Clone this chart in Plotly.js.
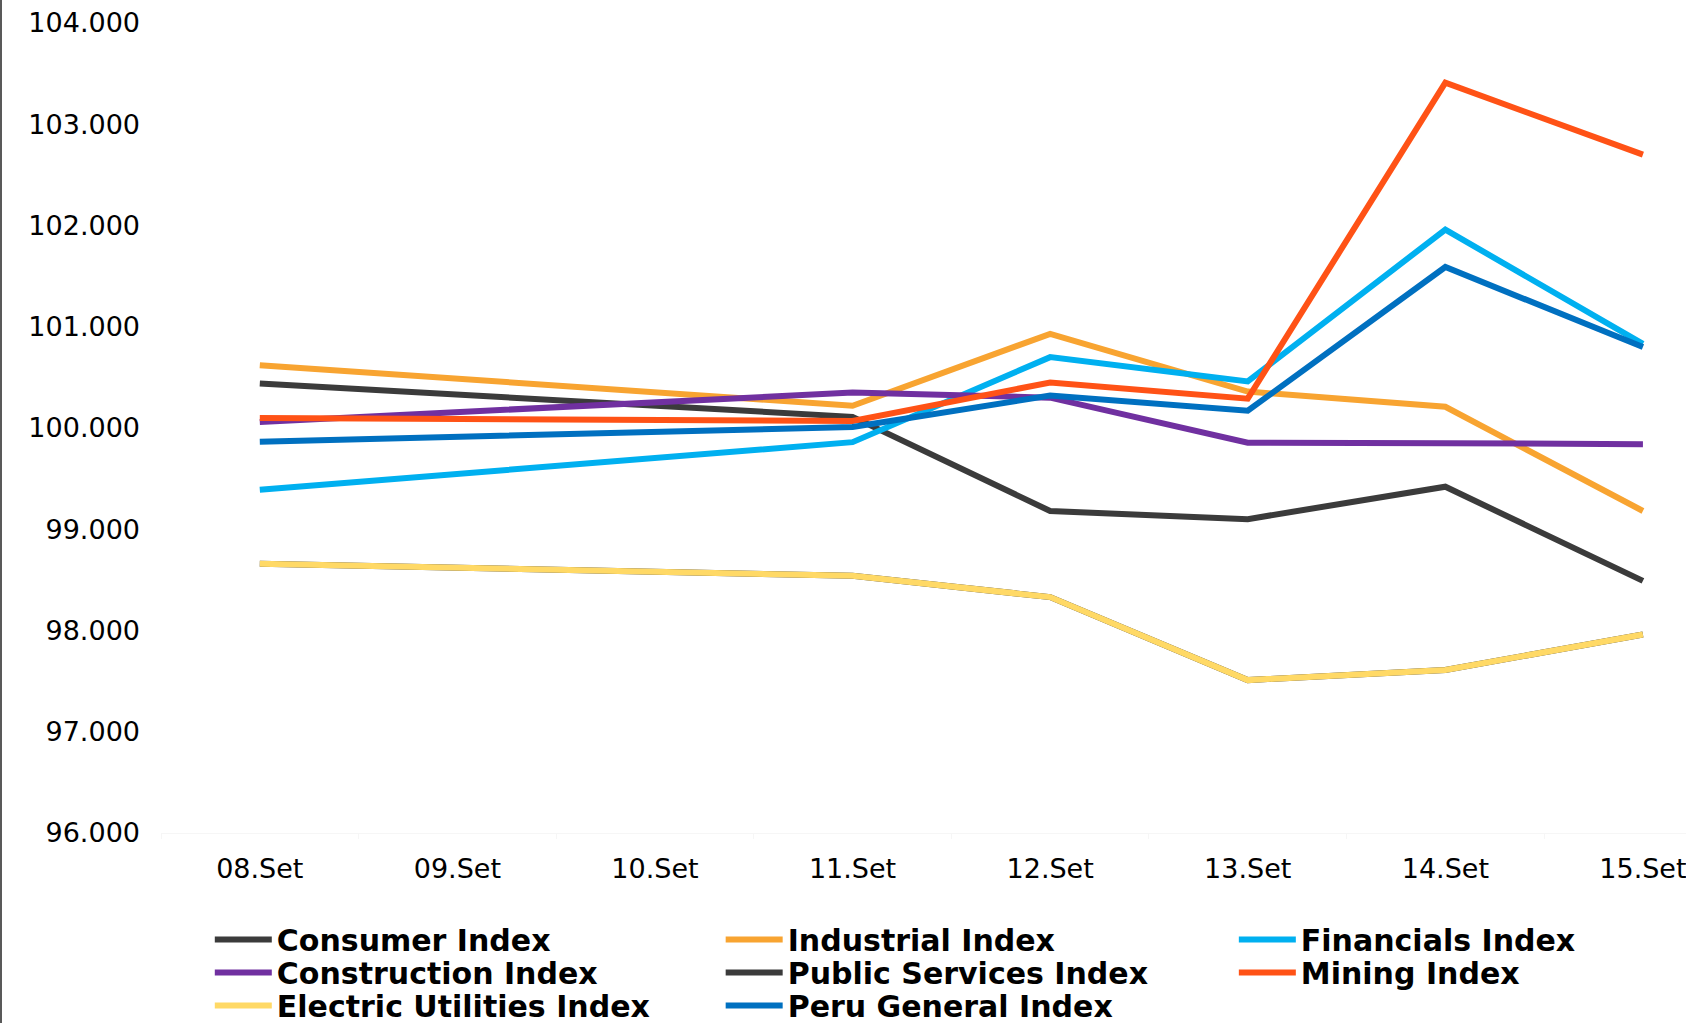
<!DOCTYPE html>
<html>
<head>
<meta charset="utf-8">
<script src="https://cdn.plot.ly/plotly-3.0.1.min.js"></script>
<style>
  html, body { margin: 0; padding: 0; background: #fff; }
  #chart { width: 1686px; height: 1023px; }
  #frame { position: absolute; left: 0; top: 0; width: 2px; height: 1023px; background: #595959; z-index: 10; }
</style>
</head>
<body>
<div id="frame"></div>
<div id="chart"></div>
<script>
// Categories (09 and 10 Set: no data, lines connect across the gap)
var dates = ['08.Set', '09.Set', '10.Set', '11.Set', '12.Set', '13.Set', '14.Set', '15.Set'];

var consumer       = [100.44, null, null, 100.11,  99.18,  99.10,  99.42,  98.49];
var industrial     = [100.62, null, null, 100.22, 100.93, 100.36, 100.21,  99.18];
var financials     = [ 99.39, null, null,  99.86, 100.70, 100.46, 101.96, 100.83];
var construction   = [100.06, null, null, 100.35, 100.30,  99.855, 99.85,  99.84];
var publicServices = [ 98.66, null, null,  98.54,  98.33,  97.51,  97.61,  97.96];
var mining         = [100.10, null, null, 100.07, 100.45, 100.29, 103.41, 102.70];
var electric       = [ 98.66, null, null,  98.54,  98.33,  97.51,  97.61,  97.96];
var peruGeneral    = [ 99.865, null, null, 100.01, 100.32, 100.17, 101.59, 100.80];

var seriesNames = ['Consumer Index', 'Industrial Index', 'Financials Index', 'Construction Index',
                   'Public Services Index', 'Mining Index', 'Electric Utilities Index', 'Peru General Index'];
var seriesData = [consumer, industrial, financials, construction, publicServices, mining, electric, peruGeneral];
var seriesColors = ['#3b3b3b', '#f8a431', '#00b0f0', '#7030a0', '#3b3b3b', '#ff5216', '#ffd966', '#0070c0'];

// legend grid: 3 columns, rows filled left to right
var legendCols = [0.032, 0.367, 0.7035];
var legendRows = [-0.0994, -0.1401, -0.1809];

var legendFont = { family: 'DejaVu Sans', size: 30, color: '#000000', weight: 'bold' };

var traces = [];
var layout = {
  width: 1686,
  height: 1023,
  margin: { l: 161, r: 0, t: 23, b: 190, pad: 0, autoexpand: false },
  paper_bgcolor: '#ffffff',
  plot_bgcolor: '#ffffff',
  font: { family: 'DejaVu Sans', size: 27, color: '#000000' },
  showlegend: true,
  xaxis: {
    type: 'category',
    range: [-0.5, 7.218],
    showgrid: false,
    zeroline: false,
    showline: true,
    linecolor: '#f6f6f6',
    linewidth: 1,
    ticks: 'outside',
    tickson: 'boundaries',
    ticklen: 5,
    tickcolor: '#f6f6f6',
    tickfont: { family: 'DejaVu Sans', size: 27, color: '#000000' },
    ticklabelstandoff: 12
  },
  yaxis: {
    range: [96, 104],
    dtick: 1,
    tick0: 96,
    tickformat: '.3f',
    showgrid: false,
    zeroline: false,
    showline: false,
    ticks: '',
    tickfont: { family: 'DejaVu Sans', size: 27, color: '#000000' },
    ticklabelstandoff: 20
  }
};

seriesNames.forEach(function (name, i) {
  var legendId = i === 0 ? 'legend' : 'legend' + (i + 1);
  traces.push({
    type: 'scatter',
    mode: 'lines',
    name: name,
    x: dates,
    y: seriesData[i],
    connectgaps: true,
    line: { color: seriesColors[i], width: 6 },
    legend: legendId,
    hoverinfo: 'x+y+name'
  });
  layout[legendId] = {
    x: legendCols[i % 3],
    y: legendRows[Math.floor(i / 3)],
    xanchor: 'left',
    yanchor: 'top',
    orientation: 'v',
    bgcolor: 'rgba(0,0,0,0)',
    font: legendFont,
    itemwidth: 57
  };
});

Plotly.newPlot('chart', traces, layout, { displayModeBar: false, staticPlot: true });
</script>
</body>
</html>
